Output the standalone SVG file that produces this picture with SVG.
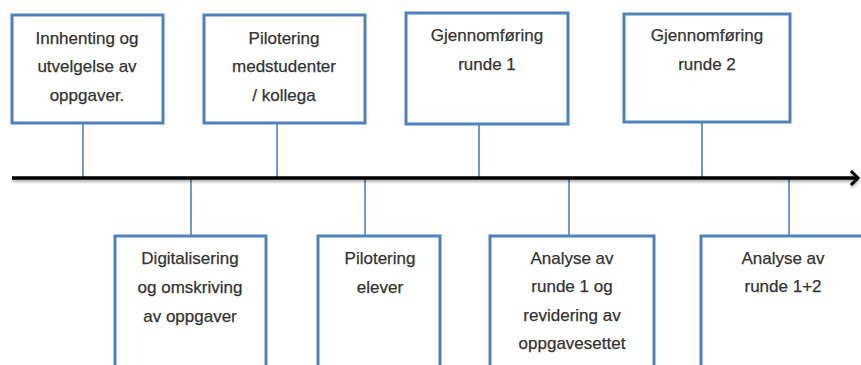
<svg xmlns="http://www.w3.org/2000/svg" width="861" height="365" viewBox="0 0 861 365">
<style>
.box{fill:#fff;stroke:#4f81bd;stroke-width:3}
.conn{stroke:#4f81bd;stroke-width:1.6;fill:none}
text{font-family:"Liberation Sans",Arial,sans-serif;font-size:17px;fill:#333;text-anchor:middle;stroke:#333;stroke-width:0.25}
</style>
<defs>
<filter id="sh" x="-5%" y="-200%" width="110%" height="500%">
<feGaussianBlur in="SourceAlpha" stdDeviation="1.5"/>
<feOffset dx="0" dy="2" result="b"/>
<feComponentTransfer><feFuncA type="linear" slope="0.35"/></feComponentTransfer>
<feMerge><feMergeNode/><feMergeNode in="SourceGraphic"/></feMerge>
</filter>
</defs>
<rect width="861" height="365" fill="#fff"/>
<g id="connectors">
<line class="conn" x1="83" y1="123" x2="83" y2="178"/>
<line class="conn" x1="277" y1="123" x2="277" y2="178"/>
<line class="conn" x1="479" y1="124" x2="479" y2="178"/>
<line class="conn" x1="702" y1="122" x2="702" y2="178"/>
<line class="conn" x1="191" y1="178" x2="191" y2="236"/>
<line class="conn" x1="365" y1="178" x2="365" y2="236"/>
<line class="conn" x1="569" y1="178" x2="569" y2="236"/>
<line class="conn" x1="789" y1="178" x2="789" y2="236"/>
</g>
<g id="timeline" filter="url(#sh)">
<line x1="12" y1="178" x2="857" y2="178" stroke="#000" stroke-width="3.5"/>
<polyline points="851,171 858,178 851,185" fill="none" stroke="#000" stroke-width="3"/>
</g>
<g id="n1"><rect class="box" x="12" y="15" width="151" height="108"/>
<text x="87" y="44">Innhenting og</text><text x="87" y="72">utvelgelse av</text><text x="87" y="101">oppgaver.</text></g>
<g id="n2"><rect class="box" x="204" y="15" width="161" height="108"/>
<text x="284" y="44">Pilotering</text><text x="284" y="72">medstudenter</text><text x="284" y="101">/ kollega</text></g>
<g id="n3"><rect class="box" x="406" y="13" width="162" height="111"/>
<text x="487" y="41">Gjennomføring</text><text x="487" y="70">runde 1</text></g>
<g id="n4"><rect class="box" x="624" y="14" width="166" height="108"/>
<text x="707" y="41">Gjennomføring</text><text x="707" y="70">runde 2</text></g>
<g id="n5"><rect class="box" x="115" y="236" width="151" height="140"/>
<text x="190" y="264">Digitalisering</text><text x="190" y="293">og omskriving</text><text x="190" y="322">av oppgaver</text></g>
<g id="n6"><rect class="box" x="318" y="236" width="122" height="140"/>
<text x="380" y="264">Pilotering</text><text x="380" y="293">elever</text></g>
<g id="n7"><rect class="box" x="490" y="236" width="164" height="140"/>
<text x="572" y="264">Analyse av</text><text x="572" y="292">runde 1 og</text><text x="572" y="321">revidering av</text><text x="572" y="349">oppgavesettet</text></g>
<g id="n8"><rect class="box" x="701" y="236" width="170" height="140"/>
<text x="783" y="264">Analyse av</text><text x="783" y="292">runde 1+2</text></g>
</svg>
